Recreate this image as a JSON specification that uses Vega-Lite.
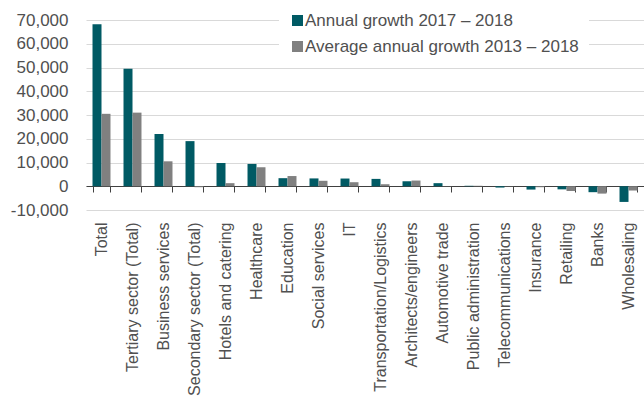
{
  "$schema": "https://vega.github.io/schema/vega-lite/v6.json",
  "width": 558,
  "height": 190,
  "autosize": {"type": "none"},
  "padding": {"left": 86, "top": 20, "right": 0, "bottom": 188},
  "background": "white",
  "config": {
    "view": {"stroke": null},
    "font": "Liberation Sans",
    "axis": {"labelFont": "Liberation Sans", "labelColor": "#505050"},
    "legend": {"labelFont": "Liberation Sans", "labelColor": "#505050"}
  },
  "data": {
    "values": [
      {"sector": "Total", "series": "Annual growth 2017 – 2018", "value": 68200},
      {"sector": "Total", "series": "Average annual growth 2013 – 2018", "value": 30500},
      {"sector": "Tertiary sector (Total)", "series": "Annual growth 2017 – 2018", "value": 49500},
      {"sector": "Tertiary sector (Total)", "series": "Average annual growth 2013 – 2018", "value": 31000},
      {"sector": "Business services", "series": "Annual growth 2017 – 2018", "value": 22000},
      {"sector": "Business services", "series": "Average annual growth 2013 – 2018", "value": 10500},
      {"sector": "Secondary sector (Total)", "series": "Annual growth 2017 – 2018", "value": 19000},
      {"sector": "Secondary sector (Total)", "series": "Average annual growth 2013 – 2018", "value": -400},
      {"sector": "Hotels and catering", "series": "Annual growth 2017 – 2018", "value": 9800},
      {"sector": "Hotels and catering", "series": "Average annual growth 2013 – 2018", "value": 1300},
      {"sector": "Healthcare", "series": "Annual growth 2017 – 2018", "value": 9400},
      {"sector": "Healthcare", "series": "Average annual growth 2013 – 2018", "value": 8000},
      {"sector": "Education", "series": "Annual growth 2017 – 2018", "value": 3400},
      {"sector": "Education", "series": "Average annual growth 2013 – 2018", "value": 4300},
      {"sector": "Social services", "series": "Annual growth 2017 – 2018", "value": 3300},
      {"sector": "Social services", "series": "Average annual growth 2013 – 2018", "value": 2300},
      {"sector": "IT", "series": "Annual growth 2017 – 2018", "value": 3250},
      {"sector": "IT", "series": "Average annual growth 2013 – 2018", "value": 1700},
      {"sector": "Transportation/Logistics", "series": "Annual growth 2017 – 2018", "value": 3100},
      {"sector": "Transportation/Logistics", "series": "Average annual growth 2013 – 2018", "value": 850},
      {"sector": "Architects/engineers", "series": "Annual growth 2017 – 2018", "value": 2100},
      {"sector": "Architects/engineers", "series": "Average annual growth 2013 – 2018", "value": 2400},
      {"sector": "Automotive trade", "series": "Annual growth 2017 – 2018", "value": 1300},
      {"sector": "Automotive trade", "series": "Average annual growth 2013 – 2018", "value": 100},
      {"sector": "Public administration", "series": "Annual growth 2017 – 2018", "value": 200},
      {"sector": "Public administration", "series": "Average annual growth 2013 – 2018", "value": 200},
      {"sector": "Telecommunications", "series": "Annual growth 2017 – 2018", "value": -550},
      {"sector": "Telecommunications", "series": "Average annual growth 2013 – 2018", "value": -100},
      {"sector": "Insurance", "series": "Annual growth 2017 – 2018", "value": -1400},
      {"sector": "Insurance", "series": "Average annual growth 2013 – 2018", "value": -400},
      {"sector": "Retailing", "series": "Annual growth 2017 – 2018", "value": -1300},
      {"sector": "Retailing", "series": "Average annual growth 2013 – 2018", "value": -2000},
      {"sector": "Banks", "series": "Annual growth 2017 – 2018", "value": -2500},
      {"sector": "Banks", "series": "Average annual growth 2013 – 2018", "value": -3100},
      {"sector": "Wholesaling", "series": "Annual growth 2017 – 2018", "value": -6600},
      {"sector": "Wholesaling", "series": "Average annual growth 2013 – 2018", "value": -1800}
    ]
  },
  "mark": {"type": "bar"},
  "encoding": {
    "x": {
      "field": "sector",
      "type": "nominal",
      "sort": null,
      "scale": {"paddingInner": 0.42, "paddingOuter": 0.21},
      "axis": {
        "title": null,
        "orient": "bottom",
        "offset": -24,
        "domain": true,
        "domainColor": "#404040",
        "domainWidth": 1,
        "ticks": true,
        "tickBand": "extent",
        "tickColor": "#404040",
        "tickSize": 6,
        "labelAngle": -90,
        "labelAlign": "right",
        "labelBaseline": "middle",
        "labelPadding": 30,
        "labelFontSize": 16,
        "labelLimit": 300,
        "grid": false
      }
    },
    "xOffset": {
      "field": "series",
      "type": "nominal",
      "scale": {"domain": ["Annual growth 2017 – 2018", "Average annual growth 2013 – 2018"]}
    },
    "y": {
      "field": "value",
      "type": "quantitative",
      "scale": {"domain": [-10000, 70000], "nice": false},
      "axis": {
        "title": null,
        "values": [-10000, 0, 10000, 20000, 30000, 40000, 50000, 60000, 70000],
        "format": ",d",
        "labelExpr": "replace(datum.label, '\u2212', '-')",
        "domain": false,
        "ticks": false,
        "labelPadding": 18,
        "labelFontSize": 17,
        "gridColor": "#d9d9d9",
        "gridWidth": 1
      }
    },
    "color": {
      "field": "series",
      "type": "nominal",
      "scale": {
        "domain": ["Annual growth 2017 – 2018", "Average annual growth 2013 – 2018"],
        "range": ["#005a64", "#808080"]
      },
      "legend": {
        "title": null,
        "orient": "none",
        "legendX": 193,
        "legendY": -18,
        "padding": 10,
        "fillColor": "white",
        "strokeColor": null,
        "symbolType": "square",
        "symbolSize": 121,
        "symbolStrokeWidth": 0,
        "labelFontSize": 17,
        "labelOffset": -1,
        "rowPadding": 8,
        "labelLimit": 400
      }
    }
  }
}
